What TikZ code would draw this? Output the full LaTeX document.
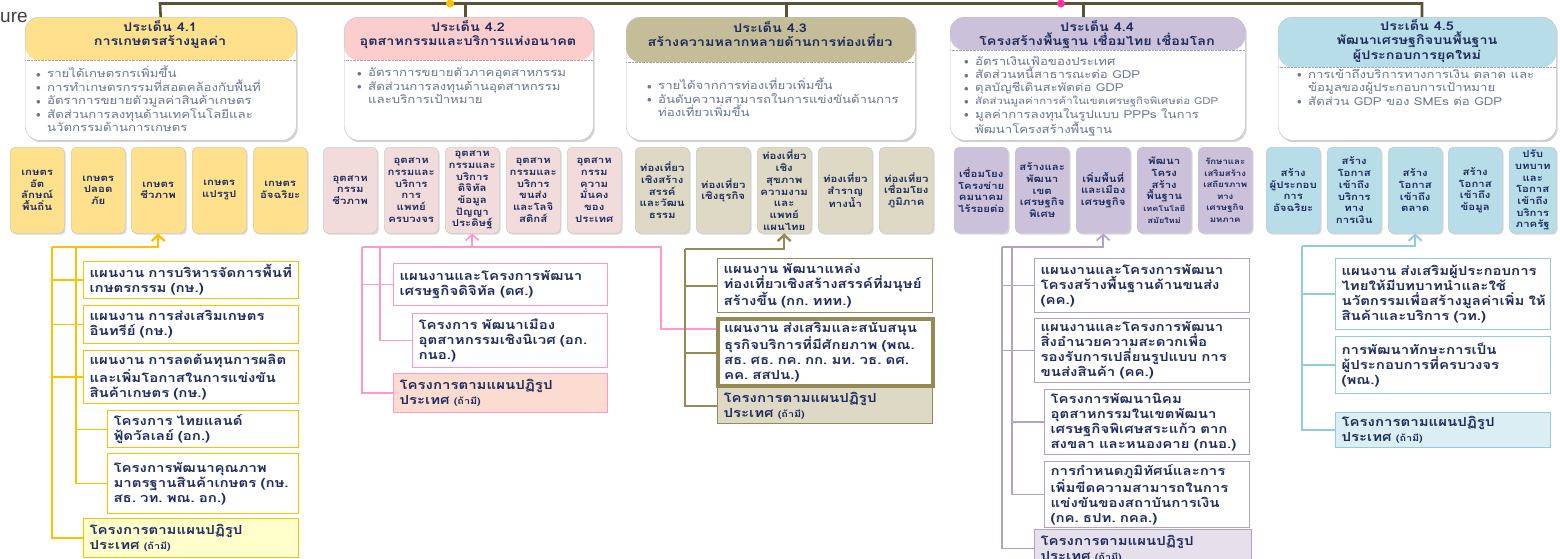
\documentclass[tikz,border=0pt]{standalone}
\usepackage{fontspec}
\setmainfont[Script=Thai, FakeStretch=1.2]{Loma}
\newfontfamily\latinsans{Liberation Sans}
\usetikzlibrary{arrows.meta,shadows}
\definecolor{navyText}{RGB}{31, 45, 94}
\definecolor{bulletGray}{RGB}{105, 118, 148}
\definecolor{topOlive}{RGB}{90, 82, 52}
\definecolor{dotYellow}{RGB}{255, 192, 0}
\definecolor{dotPink}{RGB}{255, 51, 153}
\definecolor{bandYellow}{RGB}{255, 224, 140}
\definecolor{bandPink}{RGB}{252, 205, 205}
\definecolor{bandKhaki}{RGB}{196, 189, 151}
\definecolor{bandLavender}{RGB}{204, 193, 218}
\definecolor{bandBlue}{RGB}{183, 222, 232}
\definecolor{goalYellow}{RGB}{255, 224, 140}
\definecolor{goalPink}{RGB}{242, 220, 219}
\definecolor{goalKhaki}{RGB}{221, 217, 196}
\definecolor{goalLavender}{RGB}{204, 193, 218}
\definecolor{goalBlue}{RGB}{183, 222, 232}
\definecolor{lineYellow}{RGB}{255, 192, 0}
\definecolor{linePink}{RGB}{255, 153, 204}
\definecolor{lineKhaki}{RGB}{148, 138, 84}
\definecolor{lineLavender}{RGB}{179, 162, 199}
\definecolor{lineBlue}{RGB}{146, 205, 220}
\definecolor{reformYellow}{RGB}{255, 255, 204}
\definecolor{reformPink}{RGB}{252, 219, 208}
\definecolor{reformKhaki}{RGB}{221, 217, 196}
\definecolor{reformLavender}{RGB}{229, 224, 236}
\definecolor{reformBlue}{RGB}{218, 238, 243}
\newcommand{\bul}{\makebox[11pt][l]{\raisebox{0.1ex}{\small$\bullet$}}}
\newcommand{\bulsp}{\hspace*{11pt}}

\begin{document}
\begin{tikzpicture}[x=1pt, y=-1pt, >={Straight Barb[width=13pt,length=6pt]},
    theme/.style={draw=gray!50, fill=white, rounded corners=14pt, anchor=north west, inner sep=0pt,
        drop shadow={shadow xshift=1.5pt, shadow yshift=-2pt, opacity=0.35}},
    themeband/.style 2 args={path picture={
        \fill[#1] (path picture bounding box.north west) rectangle ([yshift=-#2]path picture bounding box.north east);
        \draw[densely dotted, gray!70] ([yshift=-#2]path picture bounding box.north west) -- ([yshift=-#2]path picture bounding box.north east);}},
    themehead/.style={align=center, text=navyText, font=\bfseries\fontsize{12}{14.5}\selectfont, inner sep=0pt},
    bullets/.style={anchor=north west, align=left, text=bulletGray, font=\fontsize{11}{13.5}\selectfont, inner sep=0pt},
    goalbox/.style={draw=gray!45, fill=#1, rounded corners=5pt, anchor=north west, minimum width=54pt, minimum height=86pt,
        inner sep=1pt, align=center, text=navyText, font=\bfseries\fontsize{9.5}{11.7}\selectfont,
        drop shadow={shadow xshift=1.5pt, shadow yshift=-1.5pt, opacity=0.3}},
    planbox/.style={draw=#1, fill=white, line width=1.1pt, anchor=north west, align=left, inner xsep=6pt, inner ysep=1pt,
        text=navyText, font=\bfseries\fontsize{12.5}{15}\selectfont},
    linkline/.style={draw=#1, line width=1.5pt},
    riseline/.style={draw=#1, line width=2.4pt, ->},
    topline/.style={draw=topOlive, line width=2.6pt},
    keydot/.style={circle, fill=#1, inner sep=0pt, minimum size=8pt}]
    \clip (0,0) rectangle (1560,558);

    % Caption remnant
    \node[anchor=base west, inner sep=0pt, text=black!75, font=\latinsans\fontsize{19}{22}\selectfont] (cap) at (0,22) {ure};

    % Theme boxes
    \node[theme, themeband={bandYellow}{43pt}, minimum width=271pt, minimum height=123pt] (t41) at (25,17) {};
    \node[theme, themeband={bandPink}{43pt}, minimum width=249pt, minimum height=123pt] (t42) at (344,17) {};
    \node[theme, themeband={bandKhaki}{45pt}, minimum width=289pt, minimum height=123pt] (t43) at (626,17) {};
    \node[theme, themeband={bandLavender}{33pt}, minimum width=295pt, minimum height=123pt] (t44) at (950,17) {};
    \node[theme, themeband={bandBlue}{50pt}, minimum width=278pt, minimum height=123pt] (t45) at (1278,17) {};

    \node[themehead] (h41) at (160,34.5) {ประเด็น 4.1\\การเกษตรสร้างมูลค่า};
    \node[themehead] (h42) at (468,34.5) {ประเด็น 4.2\\อุตสาหกรรมและบริการแห่งอนาคต};
    \node[themehead] (h43) at (770,34) {ประเด็น 4.3\\สร้างความหลากหลายด้านการท่องเที่ยว};
    \node[themehead] (h44) at (1097,34.5) {ประเด็น 4.4\\โครงสร้างพื้นฐาน เชื่อมไทย เชื่อมโลก};
    \node[themehead] (h45) at (1417,41) {ประเด็น 4.5\\พัฒนาเศรษฐกิจบนพื้นฐาน\\ผู้ประกอบการยุคใหม่};

    \node[bullets] (k41) at (36,66) {\bul รายได้เกษตรกรเพิ่มขึ้น\\\bul การทำเกษตรกรรมที่สอดคล้องกับพื้นที่\\\bul อัตราการขยายตัวมูลค่าสินค้าเกษตร\\\bul สัดส่วนการลงทุนด้านเทคโนโลยีและ\\\bulsp นวัตกรรมด้านการเกษตร};
    \node[bullets] (k42) at (357,68) {\bul อัตราการขยายตัวภาคอุตสาหกรรม\\\bul สัดส่วนการลงทุนด้านอุตสาหกรรม\\\bulsp และบริการเป้าหมาย};
    \node[bullets] (k43) at (647,78) {\bul รายได้จากการท่องเที่ยวเพิ่มขึ้น\\\bul อันดับความสามารถในการแข่งขันด้านการ\\\bulsp ท่องเที่ยวเพิ่มขึ้น};
    \node[bullets, font=\fontsize{11}{13.2}\selectfont] (k44) at (964,56) {\bul อัตราเงินเฟ้อของประเทศ\\\bul สัดส่วนหนี้สาธารณะต่อ GDP\\\bul ดุลบัญชีเดินสะพัดต่อ GDP\\\bul {\fontsize{9.5}{13}\selectfont สัดส่วนมูลค่าการค้าในเขตเศรษฐกิจพิเศษต่อ GDP}\\\bul มูลค่าการลงทุนในรูปแบบ PPPs ในการ\\\bulsp พัฒนาโครงสร้างพื้นฐาน};
    \node[bullets] (k45) at (1297,69) {\bul การเข้าถึงบริการทางการเงิน ตลาด และ\\\bulsp ข้อมูลของผู้ประกอบการเป้าหมาย\\\bul สัดส่วน GDP ของ SMEs ต่อ GDP};

    % Top connector
    \coordinate (topL) at (160,3.5);
    \coordinate (topR) at (1422,3.5);
    \draw[topline] (t41.north) -- (topL) -- (topR) -- (topR |- t45.north);
    \draw[topline] ([xshift=-3.5pt]t42.north) -- ([xshift=-3.5pt]t42.north |- topL);
    \draw[topline] ([xshift=15.5pt]t43.north) -- ([xshift=15.5pt]t43.north |- topL);
    \draw[topline] ([xshift=-14.5pt]t44.north) -- ([xshift=-14.5pt]t44.north |- topL);
    \node[keydot=dotYellow] (dy) at (450,3.5) {};
    \node[keydot=dotPink] (dp) at (1061,3.5) {};

    % Strategy boxes
    \node[goalbox=goalYellow] (g11) at (10,147) {เกษตร\\อัต\\ลักษณ์\\พื้นถิ่น};
    \node[goalbox=goalYellow] (g12) at (71,147) {เกษตร\\ปลอด\\ภัย};
    \node[goalbox=goalYellow] (g13) at (131,147) {เกษตร\\ชีวภาพ};
    \node[goalbox=goalYellow] (g14) at (192,147) {เกษตร\\แปรรูป};
    \node[goalbox=goalYellow] (g15) at (253,147) {เกษตร\\อัจฉริยะ};

    \node[goalbox=goalPink] (g21) at (323,147) {อุตสาห\\กรรม\\ชีวภาพ};
    \node[goalbox=goalPink] (g22) at (384,147) {อุตสาห\\กรรมและ\\บริการ\\การ\\แพทย์\\ครบวงจร};
    \node[goalbox=goalPink] (g23) at (445,147) {อุตสาห\\กรรมและ\\บริการ\\ดิจิทัล\\ข้อมูล\\ปัญญา\\ประดิษฐ์};
    \node[goalbox=goalPink] (g24) at (506,147) {อุตสาห\\กรรมและ\\บริการ\\ขนส่ง\\และโลจิ\\สติกส์};
    \node[goalbox=goalPink] (g25) at (567,147) {อุตสาห\\กรรม\\ความ\\มั่นคง\\ของ\\ประเทศ};

    \node[goalbox=goalKhaki] (g31) at (635,147) {ท่องเที่ยว\\เชิงสร้าง\\สรรค์\\และวัฒน\\ธรรม};
    \node[goalbox=goalKhaki] (g32) at (696,147) {ท่องเที่ยว\\เชิงธุรกิจ};
    \node[goalbox=goalKhaki] (g33) at (757,147) {ท่องเที่ยว\\เชิง\\สุขภาพ\\ความงาม\\และ\\แพทย์\\แผนไทย};
    \node[goalbox=goalKhaki] (g34) at (818,147) {ท่องเที่ยว\\สำราญ\\ทางน้ำ};
    \node[goalbox=goalKhaki] (g35) at (879,147) {ท่องเที่ยว\\เชื่อมโยง\\ภูมิภาค};

    \node[goalbox=goalLavender] (g41) at (954,147) {เชื่อมโยง\\โครงข่าย\\คมนาคม\\ไร้รอยต่อ};
    \node[goalbox=goalLavender] (g42) at (1015,147) {สร้างและ\\พัฒนา\\เขต\\เศรษฐกิจ\\พิเศษ};
    \node[goalbox=goalLavender] (g43) at (1076,147) {เพิ่มพื้นที่\\และเมือง\\เศรษฐกิจ};
    \node[goalbox=goalLavender] (g44) at (1137,147) {พัฒนา\\โครง\\สร้าง\\พื้นฐาน\\{\fontsize{7.5}{9}\selectfont เทคโนโลยี}\\{\fontsize{7.5}{9}\selectfont สมัยใหม่}};
    \node[goalbox=goalLavender, font=\bfseries\fontsize{8}{11.5}\selectfont] (g45) at (1198,147) {รักษาและ\\เสริมสร้าง\\เสถียรภาพ\\ทาง\\เศรษฐกิจ\\มหภาค};

    \node[goalbox=goalBlue] (g51) at (1266,147) {สร้าง\\ผู้ประกอบ\\การ\\อัจฉริยะ};
    \node[goalbox=goalBlue] (g52) at (1327,147) {สร้าง\\โอกาส\\เข้าถึง\\บริการ\\ทาง\\การเงิน};
    \node[goalbox=goalBlue] (g53) at (1388,147) {สร้าง\\โอกาส\\เข้าถึง\\ตลาด};
    \node[goalbox=goalBlue] (g54) at (1448,147) {สร้าง\\โอกาส\\เข้าถึง\\ข้อมูล};
    \node[goalbox=goalBlue, minimum width=47pt] (g55) at (1509,147) {ปรับ\\บทบาท\\และ\\โอกาส\\เข้าถึง\\บริการ\\ภาครัฐ};

    % Plans and projects
    \node[planbox=lineYellow, text width=203pt, minimum height=37pt] (ya) at (83,261) {แผนงาน~การบริหารจัดการพื้นที่\\เกษตรกรรม~(กษ.)};
    \node[planbox=lineYellow, text width=203pt, minimum height=38pt] (yb) at (83,305) {แผนงาน~การส่งเสริมเกษตร\\อินทรีย์~(กษ.)};
    \node[planbox=lineYellow, text width=203pt, minimum height=53pt] (yc) at (83,350) {แผนงาน~การลดต้นทุนการผลิต\\และเพิ่มโอกาสในการแข่งขัน\\สินค้าเกษตร~(กษ.)};
    \node[planbox=lineYellow, text width=179pt, minimum height=37pt] (yd) at (107,410) {โครงการ~ไทยแลนด์\\ฟู้ดวัลเลย์~(อก.)};
    \node[planbox=lineYellow, text width=179pt, minimum height=60pt] (ye) at (107,453) {โครงการพัฒนาคุณภาพ\\มาตรฐานสินค้าเกษตร~(กษ.\\สธ.~วท.~พณ.~อก.)};
    \node[planbox=lineYellow, fill=reformYellow, text width=203pt, minimum height=39pt] (yf) at (83,518) {โครงการตามแผนปฏิรูป\\ประเทศ~{\small (ถ้ามี)}};

    \node[planbox=linePink, text width=202pt, minimum height=42pt] (pa) at (393,263) {แผนงานและโครงการพัฒนา\\เศรษฐกิจดิจิทัล~(ดศ.)};
    \node[planbox=linePink, text width=183pt, minimum height=54pt] (pb) at (412,313) {โครงการ~พัฒนาเมือง\\อุตสาหกรรมเชิงนิเวศ~(อก.\\กนอ.)};
    \node[planbox=linePink, fill=reformPink, text width=202pt, minimum height=39pt] (pc) at (393,373) {โครงการตามแผนปฏิรูป\\ประเทศ~{\small (ถ้ามี)}};

    \node[planbox=lineKhaki, text width=203pt, minimum height=54pt] (ka) at (717,258) {แผนงาน~พัฒนาแหล่ง\\ท่องเที่ยวเชิงสร้างสรรค์ที่มนุษย์\\สร้างขึ้น~(กก.~ททท.)};
    \node[planbox=lineKhaki, line width=4pt, text width=203pt, minimum height=67pt] (kb) at (716,317) {แผนงาน~ส่งเสริมและสนับสนุน\\ธุรกิจบริการที่มีศักยภาพ~(พณ.\\สธ.~ศธ.~กค.~กก.~มท.~วธ.~ดศ.\\คค.~สสปน.)};
    \node[planbox=lineKhaki, fill=reformKhaki, text width=203pt, minimum height=36pt] (kc) at (717,387) {โครงการตามแผนปฏิรูป\\ประเทศ~{\small (ถ้ามี)}};

    \node[planbox=lineLavender, text width=203pt, minimum height=54pt] (la) at (1034,258) {แผนงานและโครงการพัฒนา\\โครงสร้างพื้นฐานด้านขนส่ง\\(คค.)};
    \node[planbox=lineLavender, text width=203pt, minimum height=64pt] (lb) at (1034,318) {แผนงานและโครงการพัฒนา\\สิ่งอำนวยความสะดวกเพื่อ\\รองรับการเปลี่ยนรูปแบบ~การ\\ขนส่งสินค้า~(คค.)};
    \node[planbox=lineLavender, text width=193pt, minimum height=65pt] (lc) at (1044,389) {โครงการพัฒนานิคม\\อุตสาหกรรมในเขตพัฒนา\\เศรษฐกิจพิเศษสระแก้ว~ตาก\\สงขลา~และหนองคาย~(กนอ.)};
    \node[planbox=lineLavender, text width=193pt, minimum height=66pt] (ld) at (1044,461) {การกำหนดภูมิทัศน์และการ\\เพิ่มขีดความสามารถในการ\\แข่งขันของสถาบันการเงิน\\(กค.~ธปท.~กคล.)};
    \node[planbox=lineLavender, fill=reformLavender, text width=205pt, minimum height=38pt] (le) at (1034,529) {โครงการตามแผนปฏิรูป\\ประเทศ~{\small (ถ้ามี)}};

    \node[planbox=lineBlue, text width=203pt, minimum height=71pt] (ba) at (1335,258) {แผนงาน~ส่งเสริมผู้ประกอบการ\\ไทยให้มีบทบาทนำและใช้\\นวัตกรรมเพื่อสร้างมูลค่าเพิ่ม~ให้\\สินค้าและบริการ~(วท.)};
    \node[planbox=lineBlue, text width=203pt, minimum height=57pt] (bb) at (1335,336) {การพัฒนาทักษะการเป็น\\ผู้ประกอบการที่ครบวงจร\\(พณ.)};
    \node[planbox=lineBlue, fill=reformBlue, text width=203pt, minimum height=35pt] (bc) at (1335,412) {โครงการตามแผนปฏิรูป\\ประเทศ~{\small (ถ้ามี)}};

    % Connectors
    \coordinate (yJ) at (52,247);
    \coordinate (yK) at (76,247);
    \draw[riseline=lineYellow] (yJ) -| (g13.south);
    \draw[linkline=lineYellow] (yJ) |- (yf.west);
    \draw[linkline=lineYellow] (yJ |- ya.west) -- (ya.west);
    \draw[linkline=lineYellow] (yJ |- yb.west) -- (yb.west);
    \draw[linkline=lineYellow] (yJ |- yc.west) -- (yc.west);
    \draw[linkline=lineYellow, line width=1.1pt] (yK) |- (ye.west);
    \draw[linkline=lineYellow, line width=1.1pt] (yK |- yd.west) -- (yd.west);

    \coordinate (pJ) at (362,247);
    \coordinate (pK) at (380,247);
    \coordinate (pE) at (661,247);
    \draw[riseline=linePink, line width=1.6pt] (g23.south |- pJ) -- (g23.south);
    \draw[linkline=linePink] (pJ) -- (pE) |- ([yshift=23.5pt]kb.west);
    \draw[linkline=linePink] (pJ) |- (pc.west);
    \draw[linkline=linePink] (pJ |- pa.west) -- (pa.west);
    \draw[linkline=linePink] (pK) |- (pb.west);

    \coordinate (kJ) at (685,249);
    \draw[riseline=lineKhaki] (kJ) -| (g33.south);
    \draw[linkline=lineKhaki, line width=2pt] (kJ) |- (kc.west);
    \draw[linkline=lineKhaki, line width=2pt] (kJ |- ka.west) -- (ka.west);
    \draw[linkline=lineKhaki, line width=2pt] (kJ |- kb.west) -- (kb.west);

    \coordinate (lJ) at (1002,247);
    \coordinate (lK) at (1012,247);
    \draw[riseline=lineLavender, line width=1.6pt] (lJ) -| (g43.south);
    \draw[linkline=lineLavender] (lJ) |- (le.west);
    \draw[linkline=lineLavender] (lJ |- la.west) -- (la.west);
    \draw[linkline=lineLavender] (lJ |- lb.west) -- (lb.west);
    \draw[linkline=lineLavender] (lK) |- (ld.west);
    \draw[linkline=lineLavender] (lK |- lc.west) -- (lc.west);

    \coordinate (bJ) at (1302,246);
    \draw[riseline=lineBlue, line width=2pt] (bJ) -| (g53.south);
    \draw[linkline=lineBlue, line width=2pt] (bJ) |- (bc.west);
    \draw[linkline=lineBlue, line width=2pt] (bJ |- ba.west) -- (ba.west);
    \draw[linkline=lineBlue, line width=2pt] (bJ |- bb.west) -- (bb.west);
\end{tikzpicture}
\end{document}
